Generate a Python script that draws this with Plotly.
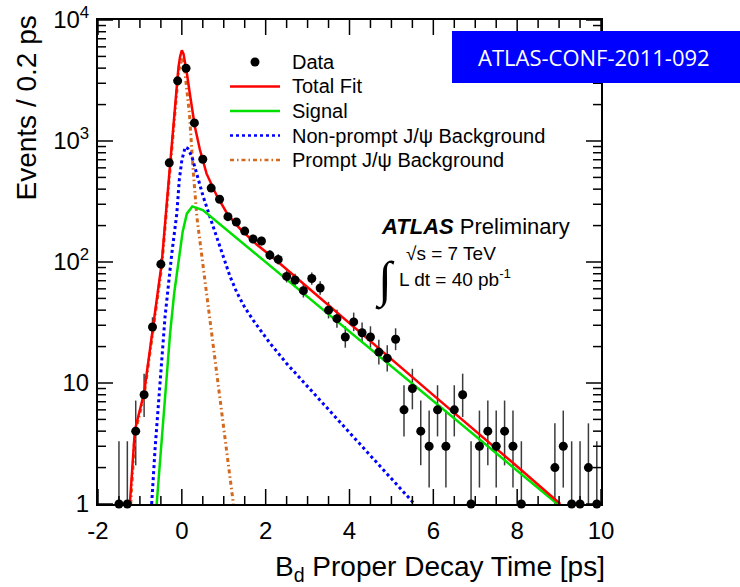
import plotly.graph_objects as go

# Binned B_d proper decay time: bin centres [ps] and events per 0.2 ps bin
t_data = [-1.5, -1.3, -1.1, -0.9, -0.7, -0.5, -0.3, -0.1, 0.1, 0.3, 0.5, 0.7, 0.9,
          1.1, 1.3, 1.5, 1.7, 1.9, 2.1, 2.3, 2.5, 2.7, 2.9, 3.1, 3.3, 3.5, 3.7, 3.9,
          4.1, 4.3, 4.5, 4.7, 4.9, 5.1, 5.3, 5.5, 5.7, 5.9, 6.1, 6.3, 6.5, 6.7, 6.9,
          7.1, 7.3, 7.5, 7.7, 7.9, 8.1, 8.9, 9.1, 9.3, 9.5, 9.7, 9.9]
n_data = [1, 1, 4, 8, 29, 96, 660, 3140, 3990, 1410, 706, 408, 330,
          237, 214, 180, 155, 149, 114, 105, 76, 71, 58, 73, 61, 40, 34, 24,
          32, 26, 24, 18, 16, 23, 6, 9, 4, 3, 6, 3, 6, 8, 1,
          3, 4, 3, 4, 3, 1, 2, 3, 1, 1, 2, 1]

# Total fit
fit_t = [-1.24, -1.12, -0.90, -0.69, -0.48, -0.38, -0.28, -0.20, -0.08, -0.04, 0.00,
         0.04, 0.08, 0.12, 0.20, 0.31, 0.43, 0.59, 0.83, 1.10, 1.40, 1.80, 2.20,
         2.60, 4.00, 6.00, 8.00, 9.03]
fit_n = [1.0, 4.07, 8.3, 29.5, 97.7, 251, 661, 1413, 4074, 5012, 5623,
         5248, 4467, 3631, 2344, 1318, 851, 537, 355, 245, 186, 138, 107,
         81.3, 30.9, 7.94, 2.04, 1.0]

# Signal component
sig_t = [-0.60, -0.44, -0.28, -0.18, -0.08, 0.02, 0.12, 0.25, 0.50, 2.00, 4.00, 6.00, 8.00, 8.96]
sig_n = [1.0, 5.25, 25.7, 56.0, 105, 178, 251, 288, 269, 100, 26.6, 7.1, 1.89, 1.0]

# Non-prompt J/psi background
npr_t = [-0.72, -0.64, -0.52, -0.40, -0.24, -0.12, -0.06, 0.00, 0.08, 0.14, 0.24,
         0.36, 0.51, 0.75, 0.99, 1.15, 1.31, 1.50, 1.71, 2.10, 2.50, 3.30, 4.10, 4.90, 5.55]
npr_n = [1.0, 2.82, 10.0, 35.5, 117, 251, 479, 692, 891, 871, 741,
         525, 347, 195, 110, 75.9, 56.2, 42.2, 32.7, 21.4, 14.5, 7.16, 3.55, 1.78, 1.0]

# Prompt J/psi background
pr_t = [-1.22, -1.12, -0.90, -0.69, -0.48, -0.38, -0.28, -0.20, -0.08, 0.00, 0.06,
        0.12, 0.18, 0.27, 0.36, 0.47, 0.59, 0.71, 0.83, 0.95, 1.07, 1.23]
pr_n = [1.0, 3.8, 7.9, 28.2, 91, 234, 617, 1318, 3715, 4786, 4169,
        2630, 1698, 575, 234, 117, 55, 25.7, 12.0, 5.6, 2.8, 1.0]

x_range = [-2, 10]
y_range_log = [0, 4]
x_ticks = [-2, 0, 2, 4, 6, 8, 10]
x_ticklabels = ["-2", "0", "2", "4", "6", "8", "10"]
x_minor = [i * 0.5 for i in range(-4, 21) if i % 4 != 0]
y_ticks = [1, 10, 100, 1000, 10000]
y_ticklabels = ["1", "10", "10<sup>2</sup>", "10<sup>3</sup>", "10<sup>4</sup>"]
y_minor = [m * 10 ** k for k in range(4) for m in range(2, 10)]

legend_labels = ["Data", "Total Fit", "Signal",
                 "Non-prompt J/ψ Background", "Prompt J/ψ Background"]

# 68% CL Poisson (Garwood) intervals for small counts
GARWOOD = {1: (0.173, 3.300), 2: (0.708, 4.638), 3: (1.367, 5.918),
           4: (2.086, 7.163), 5: (2.840, 8.382), 6: (3.620, 9.584),
           7: (4.419, 10.77), 8: (5.232, 11.95), 9: (6.057, 13.11),
           10: (6.891, 14.27)}


def poisson_interval(n):
    if n in GARWOOD:
        return GARWOOD[n]
    s = (n + 0.25) ** 0.5
    return n + 0.5 - s, n + 0.5 + s


err_lo = [n - poisson_interval(n)[0] for n in n_data]
err_hi = [poisson_interval(n)[1] - n for n in n_data]

W, H = 740, 587
L, R, T, B = 98, 601, 20, 504


def px(x):
    return (x - L) / (R - L)


def py(y):
    return (B - y) / (B - T)


FONT = "Liberation Sans, Arial, Helvetica, sans-serif"
RED, GREEN, BLUE, ORANGE = "#ff0000", "#00e000", "#0000ff", "#d2691e"
BLUE_DASH = "3px,3px"
ORANGE_DASH = "4px,3px,1.5px,3px"

# inward frame ticks on all four sides (ROOT style), lengths in pixels
MAJOR_LEN, MINOR_LEN = 15, 8
x_per_px = (x_range[1] - x_range[0]) / (R - L)
dec_per_px = (y_range_log[1] - y_range_log[0]) / (B - T)
y_lo, y_hi = 10 ** y_range_log[0], 10 ** y_range_log[1]
tick_x, tick_y = [], []
for vals, length in [(x_ticks, MAJOR_LEN), (x_minor, MINOR_LEN)]:
    f = 10 ** (length * dec_per_px)
    for v in vals:
        tick_x += [v, v, None, v, v, None]
        tick_y += [y_lo, y_lo * f, None, y_hi, y_hi / f, None]
for vals, length in [(y_ticks, MAJOR_LEN), (y_minor, MINOR_LEN)]:
    d = length * x_per_px
    for v in vals:
        tick_x += [x_range[0], x_range[0] + d, None, x_range[1], x_range[1] - d, None]
        tick_y += [v, v, None, v, v, None]

fig = go.Figure()

# error bars (clipped to the frame)
fig.add_trace(go.Scatter(
    x=t_data, y=n_data, mode="markers",
    marker=dict(size=9, color="rgba(0,0,0,0)"),
    error_y=dict(type="data", symmetric=False, array=err_hi, arrayminus=err_lo,
                 color="#3c3c3c", thickness=1.5, width=0),
    showlegend=False, hoverinfo="skip"))

fig.add_trace(go.Scatter(x=pr_t, y=pr_n, mode="lines",
                         line=dict(color=ORANGE, width=3, dash=ORANGE_DASH),
                         showlegend=False))
fig.add_trace(go.Scatter(x=npr_t, y=npr_n, mode="lines",
                         line=dict(color=BLUE, width=3, dash=BLUE_DASH),
                         showlegend=False))
fig.add_trace(go.Scatter(x=sig_t, y=sig_n, mode="lines",
                         line=dict(color=GREEN, width=2.5), showlegend=False))
fig.add_trace(go.Scatter(x=fit_t, y=fit_n, mode="lines",
                         line=dict(color=RED, width=2.5), showlegend=False))

# frame ticks
fig.add_trace(go.Scatter(x=tick_x, y=tick_y, mode="lines",
                         line=dict(color="black", width=1.5),
                         connectgaps=False, showlegend=False, hoverinfo="skip"))

# data points, drawn in full even on the frame edge
fig.add_trace(go.Scatter(x=t_data, y=n_data, mode="markers",
                         marker=dict(size=9, color="black"),
                         cliponaxis=False, showlegend=False))

shapes = []
annotations = []

# legend block
rows = [62, 86.5, 111, 135.5, 160]
shapes.append(dict(type="circle", xref="paper", yref="paper",
                   xsizemode="pixel", ysizemode="pixel",
                   xanchor=px(255), yanchor=py(rows[0]),
                   x0=-4.5, x1=4.5, y0=-4.5, y1=4.5,
                   fillcolor="black", line=dict(width=0)))
for row, color, width, dash in [(rows[1], RED, 2.5, "solid"),
                                (rows[2], GREEN, 2.5, "solid"),
                                (rows[3], BLUE, 2.5, BLUE_DASH),
                                (rows[4], ORANGE, 2.5, ORANGE_DASH)]:
    shapes.append(dict(type="line", xref="paper", yref="paper",
                       x0=px(230), x1=px(280), y0=py(row), y1=py(row),
                       line=dict(color=color, width=width, dash=dash)))
for row, label in zip(rows, legend_labels):
    annotations.append(dict(text=label, xref="paper", yref="paper",
                            x=px(290), y=py(row), xanchor="left", yanchor="middle",
                            showarrow=False, font=dict(family=FONT, size=20, color="black")))

# conference note tag
shapes.append(dict(type="rect", xref="paper", yref="paper", layer="above",
                   x0=px(452), x1=px(740), y0=py(83), y1=py(31),
                   fillcolor="#0000ff", line=dict(width=0)))
annotations.append(dict(text="ATLAS-CONF-2011-092", xref="paper", yref="paper",
                        x=px(594), y=py(57), xanchor="center", yanchor="middle",
                        showarrow=False,
                        font=dict(family="Open Sans, sans-serif", size=22, color="white")))

# experiment label
annotations.append(dict(text="<b><i>ATLAS</i></b> Preliminary", xref="paper", yref="paper",
                        x=px(379), y=py(226), xanchor="left", yanchor="middle",
                        showarrow=False, font=dict(family=FONT, size=22, color="black")))
annotations.append(dict(text="√s = 7 TeV", xref="paper", yref="paper",
                        x=px(404), y=py(253), xanchor="left", yanchor="middle",
                        showarrow=False, font=dict(family=FONT, size=19, color="black")))
annotations.append(dict(text="L dt = 40 pb<sup>-1</sup>", xref="paper", yref="paper",
                        x=px(397), y=py(278), xanchor="left", yanchor="middle",
                        showarrow=False, font=dict(family=FONT, size=19, color="black")))
annotations.append(dict(text="∫", xref="paper", yref="paper",
                        x=px(385), y=py(281), xanchor="center", yanchor="middle",
                        showarrow=False,
                        font=dict(family="Liberation Serif, serif", size=50, color="black")))

# axis titles
annotations.append(dict(text="B<sub>d</sub> Proper Decay Time [ps]", xref="paper", yref="paper",
                        x=px(607), y=py(568), xanchor="right", yanchor="middle",
                        showarrow=False, font=dict(family=FONT, size=28, color="black")))
annotations.append(dict(text="Events / 0.2 ps", xref="paper", yref="paper",
                        x=px(26), y=py(14), xanchor="center", yanchor="top",
                        textangle=-90, showarrow=False,
                        font=dict(family=FONT, size=28, color="black")))

axis_common = dict(
    ticks="", showline=True, linewidth=2, linecolor="black", mirror=True,
    showgrid=False, zeroline=False, layer="above traces",
    tickfont=dict(family=FONT, size=24, color="black"),
)

fig.update_layout(
    template="none",
    width=W, height=H,
    margin=dict(l=L, r=W - R, t=T, b=H - B, pad=0),
    paper_bgcolor="white", plot_bgcolor="white",
    font=dict(family=FONT, size=24, color="black"),
    showlegend=False,
    shapes=shapes, annotations=annotations,
    xaxis=dict(range=x_range, tickmode="array", tickvals=x_ticks, ticktext=x_ticklabels,
               ticklabelstandoff=4, **axis_common),
    yaxis=dict(type="log", range=y_range_log, tickmode="array", tickvals=y_ticks,
               ticktext=y_ticklabels, ticklabelstandoff=2, **axis_common),
)

fig.write_html("out.html")
